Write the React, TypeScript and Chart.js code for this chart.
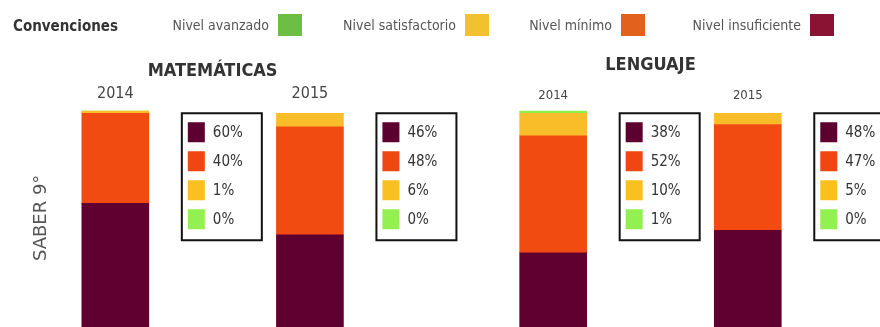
import React, { useEffect, useRef } from "react";
import { Chart, registerables } from "chart.js";

Chart.register(...registerables);

// ---- data ----
const subjects = ["MATEMÁTICAS", "LENGUAJE"];
const years = ["2014", "2015", "2014", "2015"];
const subjectOfBar = [0, 0, 1, 1];
const levelLabels = ["Nivel insuficiente", "Nivel mínimo", "Nivel satisfactorio", "Nivel avanzado"];
const insuficiente = [60, 46, 38, 48];
const minimo = [40, 48, 52, 47];
const satisfactorio = [1, 6, 10, 5];
const avanzado = [0, 0, 1, 0];
const yAxisTitle = "SABER 9°";
const legendTitle = "Convenciones";

// ---- styles / layout ----
const barColors = ["#600030", "#f14b12", "#fabd2a", "#8fee4c"];
const legendColors = ["#8a1233", "#e2621b", "#f2c12e", "#6fbe44"];
const boxColors = ["#5c002f", "#f04712", "#f9c020", "#92f050"];
const SLOT = [0, 4, 9, 13];
const SLOTS = 16;
const legendSquareX = [810, 621, 465, 278];
const subjectTitleY = [71, 65];
const yearFontSize = [16, 16, 13, 13];
const NARROW = "'Liberation Sans Narrow', 'DejaVu Sans Condensed', 'DejaVu Sans', sans-serif";

const seriesValues = [insuficiente, minimo, satisfactorio, avanzado];

function spread(values: number[]): (number | null)[] {
  const out: (number | null)[] = new Array(SLOTS).fill(null);
  SLOT.forEach((s, i) => (out[s] = values[i]));
  return out;
}

const labels: string[] = new Array(SLOTS).fill("");
SLOT.forEach((s, i) => (labels[s] = years[i]));

const overlayPlugin = {
  id: "overlay",
  afterDraw(chart: any) {
    const ctx: CanvasRenderingContext2D = chart.ctx;
    const yScale = chart.scales.y;
    ctx.save();
    ctx.textBaseline = "middle";

    // legend ("Convenciones")
    ctx.fillStyle = "#333";
    ctx.textAlign = "left";
    ctx.font = `bold 15px ${NARROW}`;
    ctx.fillText(legendTitle, 13, 27);
    ctx.font = `14px ${NARROW}`;
    levelLabels.forEach((lab, k) => {
      const sx = legendSquareX[k];
      ctx.fillStyle = "#555";
      ctx.textAlign = "right";
      ctx.fillText(lab, sx - 9, 26);
      ctx.fillStyle = legendColors[k];
      ctx.fillRect(sx, 14, 24, 22);
    });

    const meta0 = chart.getDatasetMeta(0);

    // subject titles
    ctx.textAlign = "center";
    ctx.fillStyle = "#333";
    ctx.font = `bold 18px ${NARROW}`;
    subjects.forEach((name, si) => {
      const xs: number[] = [];
      SLOT.forEach((s, b) => {
        if (subjectOfBar[b] === si) xs.push(meta0.data[s].x);
      });
      const cx = xs.reduce((a, c) => a + c, 0) / xs.length;
      ctx.fillText(name, cx, subjectTitleY[si]);
    });

    // value boxes
    SLOT.forEach((s, b) => {
      const bar = meta0.data[s];
      const left = bar.x + bar.width / 2 + 33;
      const top = yScale.getPixelForValue(100);
      const w = 80;
      const h = 127;
      ctx.lineWidth = 2;
      ctx.strokeStyle = "#111";
      ctx.strokeRect(left, top, w, h);
      seriesValues.forEach((vals, k) => {
        const ry = top + 9 + k * 29;
        ctx.fillStyle = boxColors[k];
        ctx.fillRect(left + 6, ry, 17, 20);
        ctx.fillStyle = "#333";
        ctx.textAlign = "left";
        ctx.font = `15px ${NARROW}`;
        ctx.fillText(`${vals[b]}%`, left + 31, ry + 11);
      });
    });
    ctx.restore();
  },
};

export default function App() {
  const canvasRef = useRef<HTMLCanvasElement | null>(null);

  useEffect(() => {
    if (!canvasRef.current) return;
    const chart = new Chart(canvasRef.current, {
      type: "bar",
      data: {
        labels,
        datasets: seriesValues.map((vals, k) => ({
          label: levelLabels[k],
          data: spread(vals),
          backgroundColor: barColors[k],
          borderWidth: 0,
          barThickness: 67,
          clip: false,
        })),
      },
      options: {
        responsive: false,
        animation: false,
        devicePixelRatio: 1,
        layout: { padding: { top: 80.75, right: 10.6, left: 0, bottom: 0 } },
        plugins: {
          legend: { display: false },
          tooltip: { enabled: false },
          title: { display: false },
        },
        scales: {
          x: {
            position: "top",
            stacked: true,
            grid: { display: false, drawTicks: false },
            border: { display: false },
            ticks: {
              padding: 5,
              autoSkip: false,
              maxRotation: 0,
              color: "#444",
              font: (c: any) => ({
                family: NARROW,
                size: yearFontSize[Math.max(0, SLOT.indexOf(c.index))] || 16,
              }),
            },
            afterFit: (scale: any) => {
              scale.height = 28;
            },
          },
          y: {
            stacked: true,
            min: 5,
            max: 102,
            grid: { display: false },
            border: { display: false },
            ticks: { display: false },
            title: {
              display: true,
              text: yAxisTitle,
              color: "#555",
              font: { family: "'DejaVu Sans', sans-serif", size: 18 },
              padding: { top: 31, bottom: 0 },
            },
            afterFit: (scale: any) => {
              scale.width = 91;
            },
          },
        },
      },
      plugins: [overlayPlugin],
    } as any);
    return () => chart.destroy();
  }, []);

  return (
    <div style={{ position: "fixed", left: 0, top: 0, width: 880, height: 327, background: "#fff" }}>
      <canvas ref={canvasRef} width={880} height={327} style={{ display: "block" }} />
    </div>
  );
}
